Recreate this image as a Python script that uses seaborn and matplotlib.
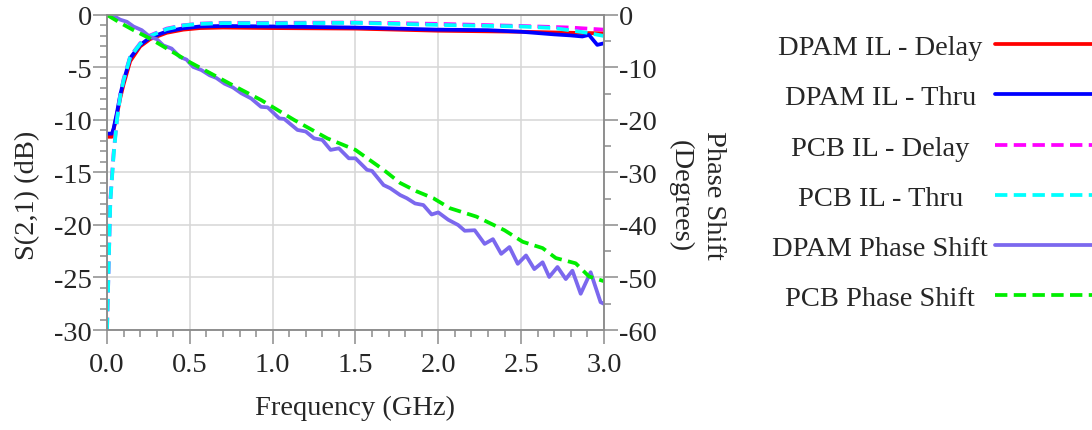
import seaborn as sns
import matplotlib.pyplot as plt
from matplotlib.ticker import MultipleLocator, FormatStrFormatter

# S(2,1) insertion loss curves (dB)
dpam_delay_f = [0, 0.03, 0.04, 0.06, 0.08, 0.1, 0.14, 0.2, 0.26, 0.36, 0.46, 0.56, 0.7, 1.0, 1.5, 2.0, 2.5, 2.8, 3.0]
dpam_delay = [-11.6, -11.6, -10.9, -9.5, -7.9, -6.6, -4.4, -3.0, -2.3, -1.7, -1.4, -1.25, -1.2, -1.25, -1.3, -1.5, -1.6, -1.7, -1.75]

dpam_thru_f = [0, 0.03, 0.04, 0.06, 0.08, 0.1, 0.14, 0.2, 0.26, 0.36, 0.46, 0.56, 0.7, 1.0, 1.5, 2.0, 2.3, 2.5, 2.7, 2.8, 2.87, 2.91, 2.96, 3.0]
dpam_thru = [-11.3, -11.3, -10.8, -9.3, -7.6, -6.3, -4.1, -2.86, -2.15, -1.58, -1.27, -1.1, -1.05, -1.1, -1.2, -1.4, -1.45, -1.6, -1.85, -1.95, -2.05, -1.9, -2.85, -2.7]

pcb_delay_f = [0, 0.02, 0.04, 0.06, 0.08, 0.1, 0.14, 0.2, 0.26, 0.36, 0.46, 0.56, 0.7, 1.0, 1.5, 2.0, 2.5, 2.8, 3.0]
pcb_delay = [-30, -17.6, -13.1, -9.9, -7.6, -6.1, -3.95, -2.7, -1.95, -1.3, -0.98, -0.83, -0.75, -0.75, -0.72, -0.85, -1.05, -1.2, -1.4]

pcb_thru_f = [0, 0.02, 0.04, 0.06, 0.08, 0.1, 0.14, 0.2, 0.26, 0.36, 0.46, 0.56, 0.7, 1.0, 1.5, 2.0, 2.5, 2.7, 2.9, 3.0]
pcb_thru = [-30, -17.8, -13.3, -10.0, -7.7, -6.2, -4.0, -2.75, -2.0, -1.35, -1.0, -0.85, -0.78, -0.8, -0.75, -0.95, -1.1, -1.25, -1.7, -2.0]

# phase shift (degrees)
dpam_phase_f = [0.0, 0.04, 0.08, 0.12, 0.16, 0.21, 0.26, 0.30, 0.34, 0.39,
                0.44, 0.48, 0.52, 0.57, 0.62, 0.66, 0.71, 0.76, 0.81, 0.87,
                0.93, 0.97, 1.04, 1.07, 1.15, 1.20, 1.25, 1.30, 1.35, 1.40,
                1.46, 1.50, 1.57, 1.60, 1.67, 1.71, 1.77, 1.81, 1.86, 1.91,
                1.96, 2.00, 2.06, 2.12, 2.16, 2.22, 2.28, 2.33, 2.38, 2.43,
                2.48, 2.53, 2.58, 2.63, 2.67, 2.72, 2.77, 2.81, 2.86, 2.92,
                2.98, 3.0]
dpam_phase = [0.0, -0.2, -0.9, -1.3, -2.2, -2.9, -4.2, -4.6, -5.8, -6.4,
              -8.0, -8.5, -9.9, -10.5, -11.5, -12.0, -13.1, -13.8, -14.9, -15.9,
              -17.5, -17.6, -19.7, -19.8, -21.9, -22.2, -23.5, -23.8, -25.7, -25.4,
              -27.3, -27.3, -29.5, -29.7, -32.4, -33.0, -34.3, -34.9, -35.9, -36.2,
              -38.0, -37.6, -39.0, -40.0, -41.1, -41.0, -43.6, -42.7, -45.5, -44.2,
              -47.4, -45.8, -48.4, -47.1, -49.9, -48.0, -50.3, -48.7, -53.1, -49.0,
              -54.7, -55.0]

pcb_phase_f = [0, 0.08, 0.16, 0.26, 0.5, 0.76, 0.93, 1.13, 1.33, 1.5, 1.67, 1.77, 1.87, 1.97, 2.07, 2.23, 2.4, 2.51, 2.63, 2.71, 2.83, 2.91, 3.0]
pcb_phase = [0, -1.5, -2.9, -4.5, -9.0, -13.4, -16.2, -20.0, -23.5, -25.7, -29.5, -32.0, -33.6, -34.9, -36.8, -38.4, -41.0, -43.2, -44.4, -46.3, -47.3, -49.8, -50.7]

sns.set_style('ticks')
plt.rcParams['font.family'] = ['Liberation Serif', 'DejaVu Serif']
plt.rcParams['axes.unicode_minus'] = False

fig = plt.figure(figsize=(10.92, 4.31), dpi=100)
ax = fig.add_axes([0.098, 0.232, 0.455, 0.731])
ax2 = ax.twinx()

lw = 2.7
dash = (0, (3.3, 1.7))
sns.lineplot(x=dpam_delay_f, y=dpam_delay, ax=ax, color='#ff0000', lw=lw, label='DPAM IL - Delay', legend=False)
sns.lineplot(x=dpam_thru_f, y=dpam_thru, ax=ax, color='#0000ff', lw=lw, label='DPAM IL - Thru', legend=False)
sns.lineplot(x=pcb_delay_f, y=pcb_delay, ax=ax, color='#ff00ff', lw=lw, ls=dash, label='PCB IL - Delay', legend=False)
sns.lineplot(x=pcb_thru_f, y=pcb_thru, ax=ax, color='#00ffff', lw=lw, ls=dash, label='PCB IL - Thru', legend=False)
sns.lineplot(x=dpam_phase_f, y=dpam_phase, ax=ax2, color='#7b68ee', lw=lw, label='DPAM Phase Shift', legend=False)
sns.lineplot(x=pcb_phase_f, y=pcb_phase, ax=ax2, color='#00ee00', lw=lw, ls=dash, label='PCB Phase Shift', legend=False)
for a in (ax, ax2):
    if a.get_legend():
        a.get_legend().remove()

fs = 20.5
ax.set_xlim(0, 3)
ax.set_ylim(-30, 0)
ax2.set_ylim(-60, 0)
ax.xaxis.set_major_locator(MultipleLocator(0.5))
ax.xaxis.set_minor_locator(MultipleLocator(0.1))
ax.xaxis.set_major_formatter(FormatStrFormatter('%.1f'))
ax.yaxis.set_major_locator(MultipleLocator(5))
ax.yaxis.set_minor_locator(MultipleLocator(1))
ax2.yaxis.set_major_locator(MultipleLocator(10))
ax2.yaxis.set_minor_locator(MultipleLocator(5))

ax.grid(True, which='major', color='#d6d6d6', lw=1.1)
for a in (ax, ax2):
    for s in a.spines.values():
        s.set_color('#8c8c8c')
        s.set_linewidth(1.1)
    a.tick_params(which='major', length=10, width=1.1, color='#8c8c8c', labelsize=fs, pad=1)
    a.tick_params(which='minor', length=5, width=1.1, color='#8c8c8c')
ax.tick_params(axis='x', pad=6)

ax.set_xlabel('Frequency (GHz)', fontsize=fs, labelpad=13)
ax.set_ylabel('S(2,1) (dB)', fontsize=fs)
ax.yaxis.set_label_coords(-0.135, 0.432)
ax2.set_ylabel('Phase Shift\n(Degrees)', fontsize=fs, rotation=270, va='center', ha='center',
               multialignment='center', linespacing=1.45)
ax2.yaxis.set_label_coords(1.187, 0.429)

h1, l1 = ax.get_legend_handles_labels()
h2, l2 = ax2.get_legend_handles_labels()
leg = fig.legend(h1 + h2, l1 + l2, loc='upper right', bbox_to_anchor=(1.0, 0.918), frameon=False,
                 markerfirst=False, handlelength=3.4, handletextpad=0.25, labelspacing=0.85,
                 borderpad=0, borderaxespad=0, fontsize=fs)

# centre the legend labels on each other, like the original
fig.canvas.draw()
r = fig.canvas.get_renderer()
widths = [t.get_window_extent(r).width for t in leg.get_texts()]
wmax = max(widths)
for t, w in zip(leg.get_texts(), widths):
    t.set_position((-(wmax - w) / 2, 0))

fig.savefig('out.png', dpi=100)
